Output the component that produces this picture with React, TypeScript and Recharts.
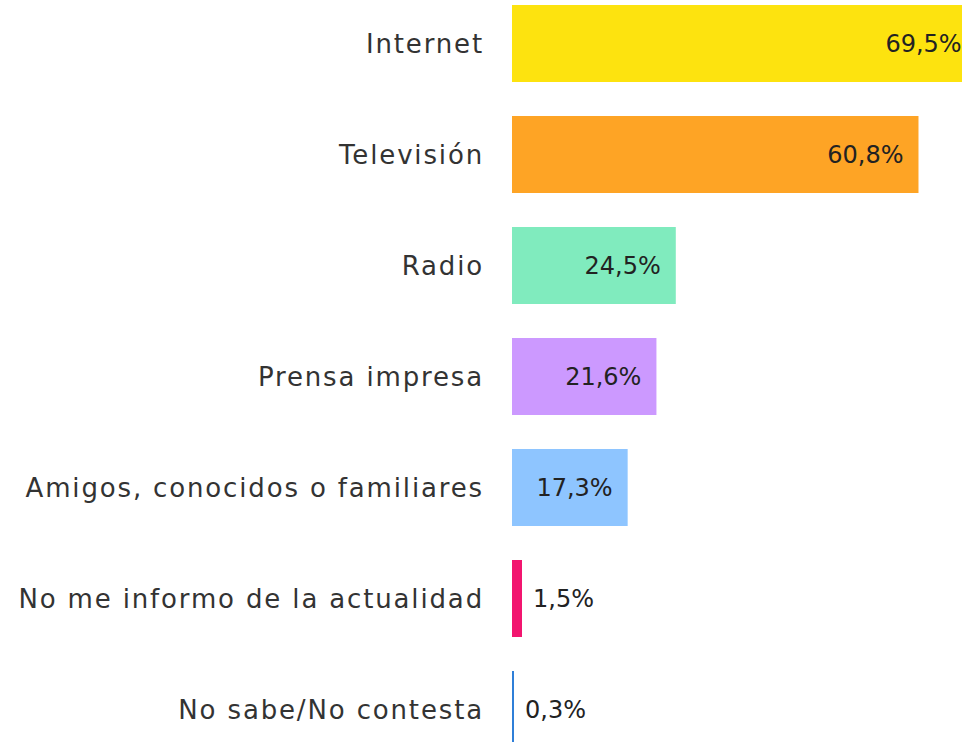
import { BarChart, Bar, XAxis, YAxis, Cell, LabelList } from 'recharts';

const categories = [
  'Internet',
  'Televisión',
  'Radio',
  'Prensa impresa',
  'Amigos, conocidos o familiares',
  'No me informo de la actualidad',
  'No sabe/No contesta',
];
const values = [69.5, 60.8, 24.5, 21.6, 17.3, 1.5, 0.3];
const colors = ['#FDE30F', '#FEA425', '#80EBBE', '#CC99FF', '#8EC5FF', '#F2156F', '#2F7FD8'];

const data = categories.map((name, i) => ({ name, value: values[i] }));

const fmt = (v: number) => v.toFixed(1).replace('.', ',') + '%';

const ValueLabel = (props: any) => {
  const { x, y, width, height, value } = props;
  const inside = value > 5;
  return (
    <text
      x={inside ? x + width - 15 : x + width + 11}
      y={y + height / 2}
      dy={8}
      textAnchor={inside ? 'end' : 'start'}
      fill="#222"
      fontSize={24}
      fontFamily="DejaVu Sans"
    >
      {fmt(value)}
    </text>
  );
};

export default function App() {
  return (
    <div style={{ position: 'absolute', left: 0, top: 0, width: 962, height: 742, overflow: 'hidden', background: '#fff' }}>
      <div style={{ position: 'absolute', left: 0, top: -12 }}>
        <BarChart
          width={980}
          height={777}
          data={data}
          layout="vertical"
          margin={{ top: 0, right: 0, bottom: 0, left: 0 }}
          barCategoryGap={17}
        >
          <XAxis type="number" domain={[0, 70]} hide />
          <YAxis
            type="category"
            dataKey="name"
            width={512}
            axisLine={false}
            tickLine={false}
            tickSize={0}
            tickMargin={28}
            tick={{ fill: '#333', fontSize: 26, fontFamily: 'DejaVu Sans', letterSpacing: 1.85 }}
          />
          <Bar dataKey="value" isAnimationActive={false}>
            {data.map((d, i) => (
              <Cell key={d.name} fill={colors[i]} />
            ))}
            <LabelList dataKey="value" content={ValueLabel} />
          </Bar>
        </BarChart>
      </div>
    </div>
  );
}
